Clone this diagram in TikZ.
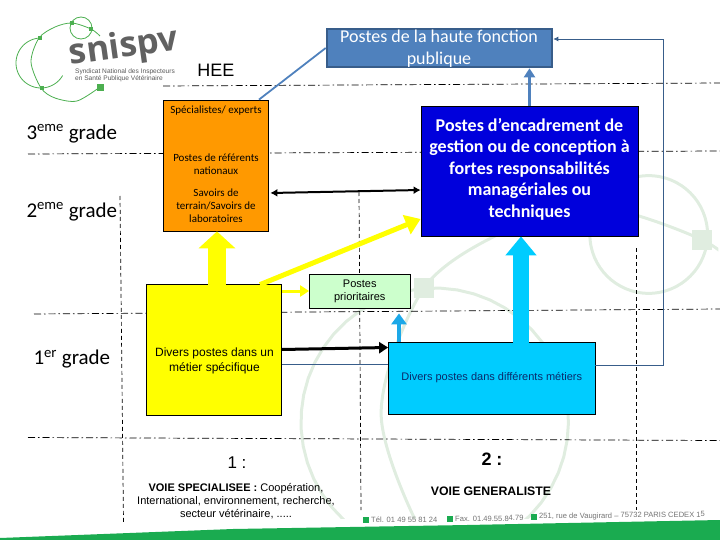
\documentclass[tikz,border=0pt]{standalone}
\usepackage{fontspec}
\setmainfont{Liberation Sans}
\newfontfamily\cali{Carlito}
\newfontfamily\logofont{Open Sans}
\usetikzlibrary{arrows.meta}
\definecolor{steel}{HTML}{4F81BD}
\definecolor{steeldark}{HTML}{385D8A}
\definecolor{logogreen}{HTML}{4CAF50}
\definecolor{palegreen}{HTML}{E0EDE0}
\definecolor{bandgreen}{HTML}{1AAB50}
\definecolor{boxorange}{HTML}{FF9900}
\definecolor{boxblue}{HTML}{0000DC}
\definecolor{boxyellow}{HTML}{FFFF00}
\definecolor{boxgreen}{HTML}{CCFFCC}
\definecolor{boxcyan}{HTML}{00CCFF}
\definecolor{arrowblue}{HTML}{1CA8E8}
\definecolor{navytext}{HTML}{0A2A6A}
\newcommand{\ringpaths}[1]{%
  \draw plot[smooth] coordinates {(100,87) (77,101) (55,98) (41,88) (31,62) (39,38) (55,27) (72,23) (91,29) (100,36)};
  \draw plot[domain=-95:#1,samples=50] ({41+25*cos(\x)},{63+25*sin(\x)});
  \draw (81,28) circle[radius=11];
}
\tikzset{
  postbox/.style={draw=black,line width=.8pt,inner sep=0pt,align=center},
  gridline/.style={line width=.7pt,dash pattern=on 7pt off 3pt on 1.5pt off 3pt},
  columnline/.style={line width=.7pt,dash pattern=on 4pt off 3pt},
  smalltext/.style={font=\cali\fontsize{11}{13}\selectfont,align=center},
  gradetext/.style={font=\cali\fontsize{21}{23}\selectfont,anchor=west}
}
\begin{document}
\begin{tikzpicture}[x=1pt,y=-1pt,
  every node/.style={font=\fontsize{11}{13}\selectfont}]
  \useasboundingbox (0,0) rectangle (720,540);
  % filigrane
  \begin{scope}[shift={(215.35,84.7)},scale=5.35,draw=palegreen,line width=3pt]
    \clip (-40,-15) rectangle (94,81);
    \ringpaths{-455}
    \fill[palegreen] (37.1,36.1) rectangle (40.9,39.9);
    \fill[palegreen] (89.1,27.1) rectangle (92.9,30.9);
  \end{scope}
  % bande du bas
  \fill[bandgreen] (0,538) -- (233,529) -- (467,525) -- (720,520) -- (720,540) -- (0,540) -- cycle;
  % logo
  \begin{scope}[draw=logogreen,line width=.8pt]
    \ringpaths{-330}
    \fill[logogreen] (37.5,36.5) rectangle (41.5,40.5);
    \fill[logogreen] (39.5,86) rectangle (43.5,90);
    \fill[logogreen] (70,21) rectangle (74,25);
    \fill[logogreen] (89,27) rectangle (93,31);
    \fill[logogreen] (96.5,84) rectangle (103.5,91);
  \end{scope}
  \node[font=\logofont\bfseries\fontsize{35}{38}\selectfont,text=black!62,rotate=8] (sigle) at (124,48) {snispv};
  \node[font=\fontsize{6.6}{6.6}\selectfont,text=black!65,align=left] (soustitre) at (125,75) {Syndicat National des Inspecteurs\\en Santé Publique Vétérinaire};
  % grille
  \foreach \xa/\ya/\xb/\yb in {163/86/720/83,28/154/720/151,34/314/720/309,28/437.5/720/440.5}
    \draw[gridline] (\xa,\ya) -- (\xb,\yb);
  \foreach \xa/\ya/\xb/\yb in {120/196/123.5/523,359/192/361/510,636/248/636/510}
    \draw[columnline] (\xa,\ya) -- (\xb,\yb);
  % grades
  \foreach \xpos/\ypos/\rang/\suffixe in {23/134/3/eme,23/212/2/eme,30/359/1/er}
    \node[gradetext] (grade\rang) at (\xpos,\ypos) {\rang\textsuperscript{\suffixe} grade};
  \node[font=\fontsize{18}{20}\selectfont] (hee) at (216,70) {HEE};
  % postes
  \node[postbox,draw=steeldark,line width=2.6pt,fill=steel,minimum width=225pt,minimum height=38pt] (hautefonction) at (439.5,48) {};
  \node[postbox,fill=boxorange,minimum width=105pt,minimum height=131pt] (specialistes) at (215.5,165.5) {};
  \node[postbox,fill=boxblue,minimum width=217pt,minimum height=130pt] (encadrement) at (529.5,171) {};
  \node[postbox,fill=boxyellow,minimum width=135pt,minimum height=131pt] (metier) at (214,349.5) {};
  \node[postbox,fill=boxgreen,minimum width=100.5pt,minimum height=34pt] (prioritaires) at (359.75,291) {Postes\\prioritaires};
  \node[postbox,fill=boxcyan,text=navytext,minimum width=206.5pt,minimum height=72pt] (differents) at (491.75,378) {Divers postes dans différents métiers};
  % textes des blocs
  \node[font=\cali\fontsize{18}{22}\selectfont,text=white,align=center] (hautelabel) at (439,49) {Postes de la haute fonction\\publique};
  \node[font=\cali\bfseries\fontsize{18}{21.5}\selectfont,text=white,align=center] (encadrementlabel) at (529.5,169) {Postes d’encadrement de\\gestion ou de conception à\\fortes responsabilités\\managériales ou\\techniques};
  \node[smalltext] (experts) at (216,111) {Spécialistes/ experts};
  \node[smalltext] (referents) at (216,164) {Postes de référents\\nationaux};
  \node[smalltext] (savoirs) at (216,206) {Savoirs de\\terrain/Savoirs de\\laboratoires};
  \node[font=\fontsize{12}{15}\selectfont,align=center] (metierlabel) at (214.5,361) {Divers postes dans un\\métier spécifique};
  % liaisons
  \draw[steel,line width=1.8pt] ([xshift=43.5pt]specialistes.north) -- (hautefonction.west);
  \draw[steel,line width=2.8pt,-{Triangle[length=9pt,width=11pt]}] (encadrement.north) -- (encadrement.north |- hautefonction.south);
  \draw[steeldark,line width=.8pt] ([yshift=-14.5pt]metier.east) -- ([yshift=14pt]differents.west);
  \coordinate (retour) at (663,365);
  \draw[steeldark,line width=.8pt,-{Latex[length=5pt,width=5pt]}] ([yshift=13pt]differents.east) -- (retour) |- ([yshift=9pt]hautefonction.east);
  \draw[line width=2pt,{Latex[length=7pt,width=8pt]}-{Latex[length=7pt,width=8pt]}] ([xshift=2pt,yshift=-27.5pt]specialistes.east) -- ([yshift=-19pt]encadrement.west);
  \draw[boxyellow,line width=18pt,-{Triangle[length=17pt,width=36pt]}] ([xshift=3pt,yshift=-1pt]metier.north) -- ([xshift=1.5pt]specialistes.south);
  \draw[boxyellow,line width=5pt,-{Triangle[length=15pt,width=20pt]}] ([xshift=46pt,yshift=-1pt]metier.north) -- ([yshift=-48pt]encadrement.west);
  \draw[boxyellow,line width=3pt,-{Triangle[length=9pt,width=11pt]}] ([yshift=58.5pt]metier.east) -- (prioritaires.west);
  \draw[line width=3pt,-{Triangle[length=9pt,width=11pt]}] (metier.east) -- ([yshift=30.5pt]differents.west);
  \draw[boxcyan,line width=16pt,-{Triangle[length=19pt,width=30pt]}] ([xshift=29.25pt,yshift=-1pt]differents.north) -- ([xshift=-8.5pt]encadrement.south);
  \draw[arrowblue,line width=4pt,-{Triangle[length=11pt,width=15pt]}] ([xshift=-92.75pt,yshift=-.5pt]differents.north) -- ([xshift=39.25pt,yshift=-5pt]prioritaires.south);
  % voies
  \node[font=\fontsize{17}{19}\selectfont] (voieun) at (237,463) {1 :};
  \node[font=\bfseries\fontsize{18}{20}\selectfont] (voiedeux) at (492,459) {2 :};
  \node[align=center,font=\fontsize{11}{13}\selectfont] (specialisee) at (236,501.5) {\textbf{VOIE SPECIALISEE :} Coopération,\\International, environnement, recherche,\\secteur vétérinaire, .....};
  \node[font=\bfseries\fontsize{12.3}{14}\selectfont] (generaliste) at (491,491) {VOIE GENERALISTE};
  % coordonnees
  \foreach \xpos/\ypos/\mention in {363/520/Tél. 01 49 55 81 24,447/519/Fax. 01.49.55.84.79,531/517/{251, rue de Vaugirard – 75732 PARIS CEDEX 15}}{
    \fill[bandgreen] (\xpos,\ypos-2.8) rectangle ++(6,6);
    \node[font=\fontsize{7.6}{9}\selectfont,text=black!55,rotate=.7,anchor=west,inner sep=0pt] at (\xpos+8,\ypos) {\mention};
  }
\end{tikzpicture}
\end{document}
